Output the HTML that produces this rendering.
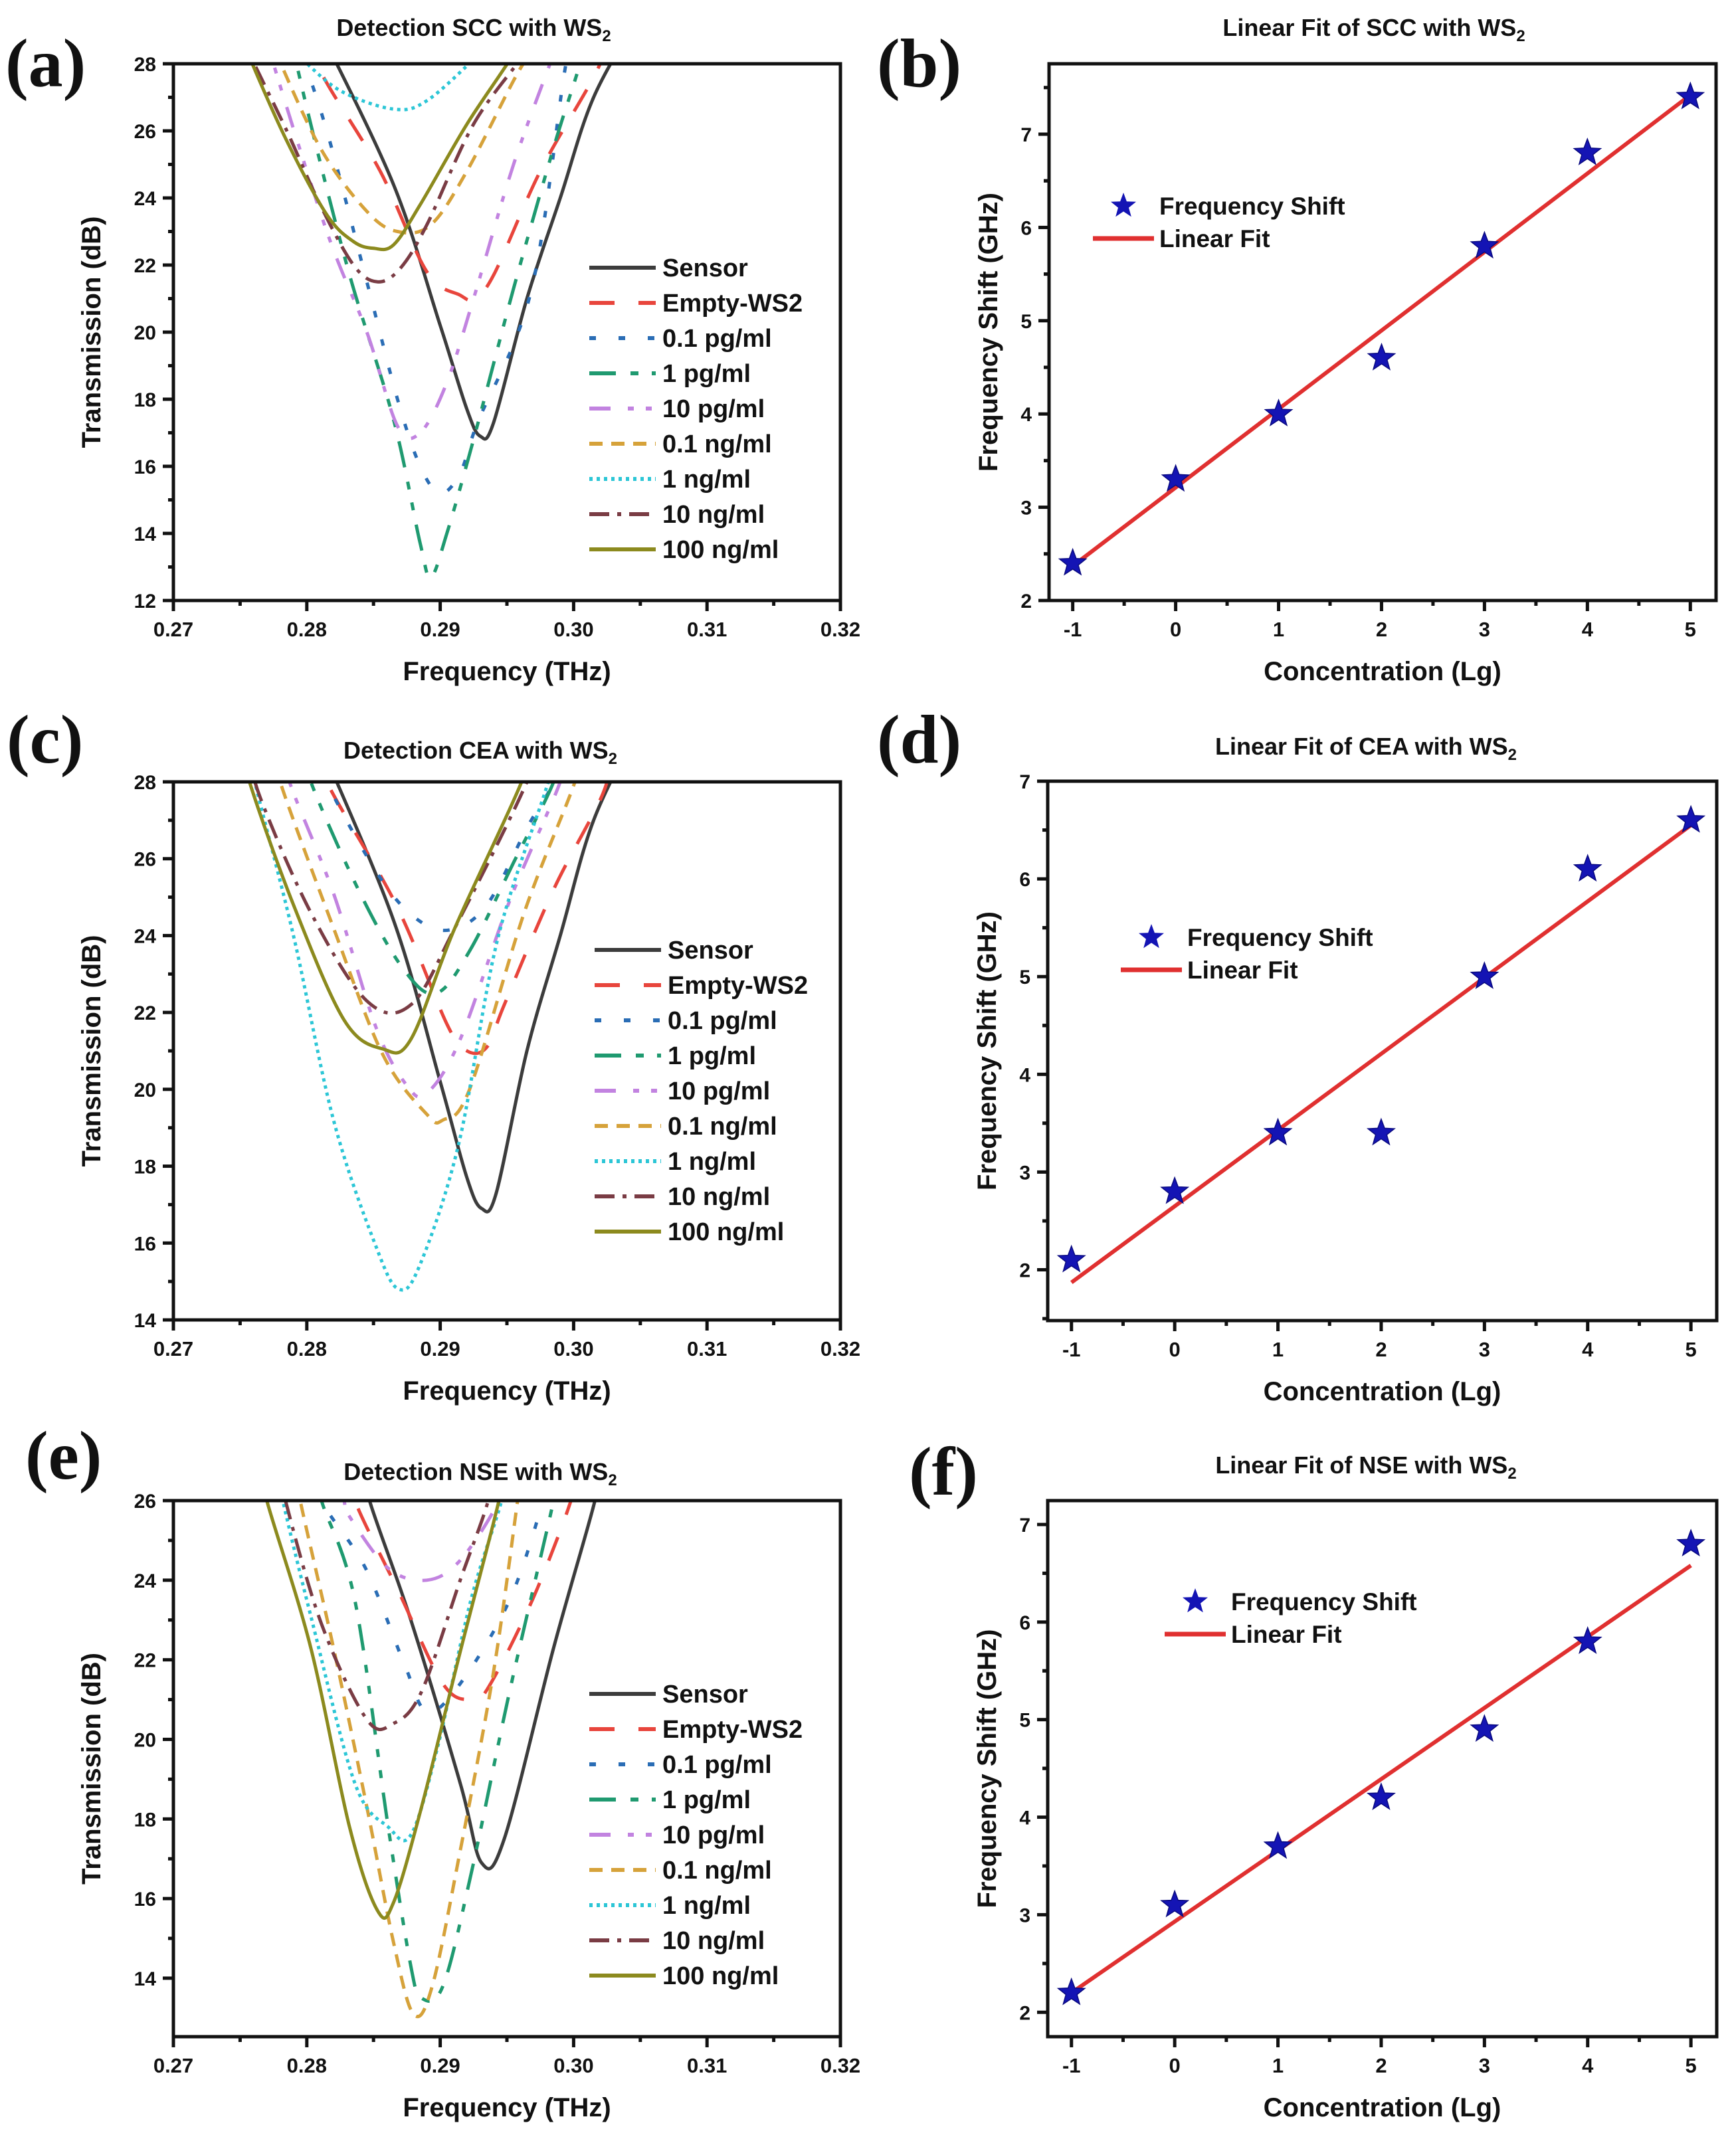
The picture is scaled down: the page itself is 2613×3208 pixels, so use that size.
<!DOCTYPE html>
<html><head><meta charset="utf-8"><style>
html,body{margin:0;padding:0;background:#fff;}
svg{display:block;}
text{font-family:"Liberation Sans",Arial,sans-serif;font-weight:bold;fill:#111;}
.pl{font-family:"Liberation Serif","Times New Roman",serif;font-weight:bold;}
</style></head><body>
<svg id="fig" xmlns="http://www.w3.org/2000/svg" width="2613" height="3208" viewBox="0 0 2613 3208"></svg>
<script>
// ---------- data ----------
const seriesNames = ["Sensor","Empty-WS2","0.1 pg/ml","1 pg/ml","10 pg/ml","0.1 ng/ml","1 ng/ml","10 ng/ml","100 ng/ml"];
const freqTicks = [0.27,0.28,0.29,0.30,0.31,0.32];
const freqTickLabels = ["0.27","0.28","0.29","0.30","0.31","0.32"];
const sccTicks = [12,14,16,18,20,22,24,26,28];
const ceaTicks = [14,16,18,20,22,24,26,28];
const nseTicks = [14,16,18,20,22,24,26];
// SCC curves: [freq THz, transmission dB]
const sccSensor = [[0.281,29],[0.2865,24.4],[0.290,20.2],[0.292,17.7],[0.293,16.9],[0.294,17.3],[0.2965,21],[0.299,24],[0.3015,27],[0.305,29.5]];
const sccEmpty = [[0.2805,29],[0.281,27.8],[0.2855,24.8],[0.289,21.8],[0.2915,21.1],[0.2925,21],[0.294,21.7],[0.2975,24.8],[0.3015,27.6],[0.303,29]];
const sccP01 = [[0.279,29],[0.2815,26],[0.2845,21.5],[0.2868,18],[0.2885,16],[0.290,15.2],[0.2915,15.8],[0.2928,17.3],[0.2968,21.2],[0.2993,27.7],[0.300,29]];
const sccP1 = [[0.279,29],[0.2794,27.7],[0.283,22],[0.2865,17.4],[0.2885,13.7],[0.2893,12.7],[0.2905,14],[0.2925,16.8],[0.2955,21.3],[0.2985,25.5],[0.3004,27.9],[0.301,29]];
const sccP10 = [[0.277,29],[0.2775,28],[0.2815,23],[0.2845,20],[0.2868,17.2],[0.2885,17],[0.2905,18.5],[0.2925,21],[0.2955,25],[0.2985,28.3],[0.299,29]];
const sccN01 = [[0.277,29],[0.2775,28.5],[0.281,25.5],[0.2845,23.6],[0.2868,23],[0.2893,23.2],[0.292,24.8],[0.2955,27.5],[0.297,28.5],[0.2975,29]];
const sccN1 = [[0.2785,28.6],[0.2795,28.2],[0.2825,27.2],[0.2865,26.65],[0.289,26.9],[0.2927,28.2],[0.294,28.7]];
const sccN10 = [[0.275,29],[0.2757,28.3],[0.2785,26],[0.281,23.8],[0.2835,22],[0.2853,21.5],[0.287,21.9],[0.289,23.2],[0.2925,26.2],[0.2963,28.3],[0.297,29]];
const sccN100 = [[0.275,29],[0.2757,28.2],[0.2785,25.7],[0.2815,23.5],[0.2835,22.7],[0.285,22.5],[0.2865,22.6],[0.2885,23.8],[0.292,26.2],[0.2955,28.3],[0.296,29]];
// CEA curves
const ceaSensor = [[0.281,29],[0.2865,24.4],[0.290,20.2],[0.292,17.7],[0.2931,16.9],[0.2942,17.3],[0.2965,21],[0.299,24],[0.3015,27],[0.305,29.5]];
const ceaEmpty = [[0.281,29],[0.2815,28],[0.2867,24.8],[0.2905,21.7],[0.292,21],[0.2935,21.1],[0.2948,22.2],[0.2985,25.2],[0.3022,27.7],[0.303,29]];
const ceaP01 = [[0.281,29],[0.2815,28],[0.2857,25.4],[0.2888,24.3],[0.2913,24.2],[0.2937,24.9],[0.2965,26.8],[0.2985,28],[0.299,29]];
const ceaP1 = [[0.2798,29],[0.2803,28],[0.284,25.1],[0.2873,23.1],[0.2897,22.5],[0.2922,23.6],[0.2955,25.9],[0.2985,28],[0.299,29]];
const ceaP10 = [[0.2782,29],[0.2787,28],[0.282,25.1],[0.2852,21.6],[0.2875,20.1],[0.289,19.9],[0.2915,21.3],[0.2952,24.9],[0.299,28],[0.2995,29]];
const ceaN01 = [[0.2775,29],[0.278,28],[0.282,24.2],[0.2857,20.9],[0.289,19.35],[0.2902,19.2],[0.2922,20],[0.2963,24.6],[0.3001,28],[0.3006,29]];
const ceaN1 = [[0.2756,29],[0.2761,28],[0.279,24],[0.282,19.2],[0.2852,15.9],[0.2869,14.8],[0.2885,15.45],[0.2914,18.6],[0.2943,23.9],[0.2981,28],[0.2986,29]];
const ceaN10 = [[0.2755,29],[0.2765,27.6],[0.2803,24.6],[0.2845,22.3],[0.2878,22.2],[0.2911,24.2],[0.2965,28],[0.297,29]];
const ceaN100 = [[0.2752,29],[0.2757,28],[0.279,24.8],[0.2828,21.8],[0.2857,21.05],[0.2878,21.3],[0.2911,24.2],[0.2961,28],[0.2966,29]];
// NSE curves
const nseSensor = [[0.2842,27],[0.2847,26],[0.2878,23],[0.2915,18.9],[0.2931,16.9],[0.2948,17.5],[0.2985,22.3],[0.3016,26],[0.302,27]];
const nseEmpty = [[0.2831,27],[0.2836,26],[0.2869,23.7],[0.2902,21.4],[0.2923,21],[0.2936,21.3],[0.2969,23.5],[0.2998,26],[0.3003,27]];
const nseP01 = [[0.2806,27],[0.2811,26],[0.2844,24.3],[0.2873,21.9],[0.289,20.7],[0.2915,21.4],[0.2952,23.5],[0.2977,26],[0.2982,27]];
const nseP1 = [[0.2806,27],[0.2811,26],[0.2836,23.5],[0.2861,17.8],[0.2878,14.3],[0.2886,13.5],[0.2902,13.8],[0.2923,16.6],[0.2952,21.2],[0.2985,26],[0.299,27]];
const nseP10 = [[0.2823,27],[0.2828,26],[0.2832,25.6],[0.2861,24.3],[0.289,24],[0.2915,24.5],[0.2944,26],[0.295,27]];
const nseN01 = [[0.279,27],[0.2795,26],[0.282,22.3],[0.2845,18.3],[0.2865,14.9],[0.288,13.1],[0.2894,13.8],[0.2915,17.2],[0.294,21.7],[0.2958,26],[0.2962,27]];
const nseN1 = [[0.2777,27],[0.2782,26],[0.2803,23.1],[0.2836,18.9],[0.2861,17.8],[0.2878,17.6],[0.2898,19.8],[0.2923,23.5],[0.2946,26],[0.295,27]];
const nseN10 = [[0.2779,27],[0.2784,26],[0.2811,22.9],[0.2845,20.5],[0.2865,20.4],[0.2886,21.2],[0.2915,24],[0.2936,26],[0.294,27]];
const nseN100 = [[0.2765,27],[0.277,26],[0.2803,22.3],[0.2832,17.8],[0.2853,15.7],[0.2865,15.9],[0.2886,18.3],[0.2915,22.2],[0.2944,26],[0.2948,27]];
// Linear fit panels
const concentrations = [-1,0,1,2,3,4,5];
const concTickLabels = ["-1","0","1","2","3","4","5"];
const sccShift = [2.4,3.3,4.0,4.6,5.8,6.8,7.4];
const sccFit = [2.37,7.42];
const ceaShift = [2.1,2.8,3.4,3.4,5.0,6.1,6.6];
const ceaFit = [1.87,6.55];
const nseShift = [2.2,3.1,3.7,4.2,4.9,5.8,6.8];
const nseFit = [2.2,6.58];
const shiftTicksB = [2,3,4,5,6,7];
const shiftTicksF = [2,3,4,5,6,7];

// ---------- drawing ----------
const NS="http://www.w3.org/2000/svg";
const svg=document.getElementById('fig');
function mk(tag,attrs,parent){const e=document.createElementNS(NS,tag);for(const k in attrs)e.setAttribute(k,attrs[k]);(parent||svg).appendChild(e);return e;}
const styles=[
 {c:"#3c3c3c",d:""},{c:"#e8453c",d:"38,36"},{c:"#2a6db5",d:"10,34"},{c:"#1f9a70",d:"40,22,12,20,12,22"},
 {c:"#c283e0",d:"32,26,9,18,9,26"},{c:"#d6a23a",d:"20,13"},{c:"#2cc6d6",d:"5,6"},{c:"#7a3c44",d:"30,12,6,12"},{c:"#8c8a1e",d:""}];

function smoothPath(pts){
  let d="M"+pts[0][0].toFixed(1)+","+pts[0][1].toFixed(1);
  for(let i=0;i<pts.length-1;i++){
    const p0=pts[Math.max(0,i-1)],p1=pts[i],p2=pts[i+1],p3=pts[Math.min(pts.length-1,i+2)];
    const c1=[p1[0]+(p2[0]-p0[0])/6,p1[1]+(p2[1]-p0[1])/6];
    const c2=[p2[0]-(p3[0]-p1[0])/6,p2[1]-(p3[1]-p1[1])/6];
    d+=" C"+c1[0].toFixed(1)+","+c1[1].toFixed(1)+" "+c2[0].toFixed(1)+","+c2[1].toFixed(1)+" "+p2[0].toFixed(1)+","+p2[1].toFixed(1);
  }
  return d;
}
function axesBox(g,L,R,T,B){
  const a=mk('rect',{x:L,y:T,width:R-L,height:B-T,fill:'none',stroke:'#111','stroke-width':5},g);
  
  
}
function title(g,cx,y,main,name){
  const t=mk('text',{x:cx,y:y,'text-anchor':'middle','font-size':36},g);
  
  
  t.textContent=main;
  const s=mk('tspan',{'font-size':24,dy:8},t);s.textContent="2";
}
function panelLetter(x,y,txt,name){
  const t=mk('text',{x:x,y:y,'font-size':104,'class':'pl'});
  
  
  t.textContent=txt;
}
let clipId=0;
function spectrumPanel(o){
  const g=mk('g',{});
  
  
  const {L,R,T,B,ymin,ymax}=o;
  const X=v=>L+(v-0.27)/0.05*(R-L);
  const Y=v=>B-(v-ymin)/(ymax-ymin)*(B-T);
  clipId++;
  const cp=mk('clipPath',{id:'c'+clipId},g);mk('rect',{x:L,y:T,width:R-L,height:B-T},cp);
  const cg=mk('g',{'clip-path':'url(#c'+clipId+')'},g);
  o.series.forEach((s,i)=>{
    const p=mk('path',{d:smoothPath(s.map(q=>[X(q[0]),Y(q[1])])),fill:'none',stroke:styles[i].c,'stroke-width':5,'stroke-dasharray':styles[i].d,'stroke-linejoin':'round'},cg);
    
    
  });
  axesBox(g,L,R,T,B);
  // x ticks
  freqTicks.forEach((v,i)=>{
    mk('line',{x1:X(v),x2:X(v),y1:B,y2:B+16,stroke:'#111','stroke-width':5},g);
    if(i<freqTicks.length-1){const m=X(v+0.005);mk('line',{x1:m,x2:m,y1:B,y2:B+8,stroke:'#111','stroke-width':5},g);}
    const t=mk('text',{x:X(v),y:B+54,'text-anchor':'middle','font-size':31},g);
    
    
    t.textContent=freqTickLabels[i];
  });
  o.yticks.forEach((v,i)=>{
    mk('line',{x1:L-16,x2:L,y1:Y(v),y2:Y(v),stroke:'#111','stroke-width':5},g);
    if(v+1<=ymax){mk('line',{x1:L-8,x2:L,y1:Y(v+1),y2:Y(v+1),stroke:'#111','stroke-width':5},g);}
    const t=mk('text',{x:L-26,y:Y(v)+11,'text-anchor':'end','font-size':30},g);
    
    
    t.textContent=v;
  });
  const xt=mk('text',{x:(L+R)/2,y:B+120,'text-anchor':'middle','font-size':40},g);
  
  
  xt.textContent="Frequency (THz)";
  const yt=mk('text',{x:0,y:0,'text-anchor':'middle','font-size':40,transform:'translate('+(L-110)+','+((T+B)/2)+') rotate(-90)'},g);
  
  
  yt.textContent="Transmission (dB)";
  // legend
  const lg=mk('g',{},g);
  
  
  seriesNames.forEach((n,i)=>{
    const y=o.legY+i*o.legDy;
    mk('line',{x1:o.legX,x2:o.legX+100,y1:y,y2:y,stroke:styles[i].c,'stroke-width':6,'stroke-dasharray':styles[i].d},lg);
    const t=mk('text',{x:o.legX+110,y:y+13,'font-size':38},lg);
    
    
    t.textContent=n;
  });
}
function starPath(cx,cy,r){
  let d="";for(let i=0;i<10;i++){const a=-Math.PI/2+i*Math.PI/5;const rr=i%2?r*0.42:r;d+=(i?"L":"M")+(cx+rr*Math.cos(a)).toFixed(1)+","+(cy+rr*Math.sin(a)).toFixed(1);}return d+"Z";
}
function fitPanel(o){
  const g=mk('g',{});
  
  
  const {L,R,T,B,ymin,ymax}=o;
  const xmin=-1.23,xmax=5.25;
  const X=v=>L+(v-xmin)/(xmax-xmin)*(R-L);
  const Y=v=>B-(v-ymin)/(ymax-ymin)*(B-T);
  const fl=mk('line',{x1:X(concentrations[0]),y1:Y(o.fit[0]),x2:X(concentrations[concentrations.length-1]),y2:Y(o.fit[1]),stroke:'#e03030','stroke-width':6},g);
  
  
  concentrations.forEach((c,i)=>{
    const s=mk('path',{d:starPath(X(c),Y(o.vals[i]),21),fill:'#1414b4',stroke:'#0a0a80','stroke-width':1.5},g);
    
    
  });
  axesBox(g,L,R,T,B);
  concentrations.forEach((c,i)=>{
    mk('line',{x1:X(c),x2:X(c),y1:B,y2:B+16,stroke:'#111','stroke-width':5},g);
    if(i<concentrations.length-1){mk('line',{x1:X(c+0.5),x2:X(c+0.5),y1:B,y2:B+8,stroke:'#111','stroke-width':5},g);}
    const t=mk('text',{x:X(c),y:B+54,'text-anchor':'middle','font-size':31},g);
    
    
    t.textContent=concTickLabels[i];
  });
  o.yticks.forEach(v=>{
    mk('line',{x1:L-16,x2:L,y1:Y(v),y2:Y(v),stroke:'#111','stroke-width':5},g);
    [v-0.5,v+0.5].forEach(m=>{if(m>ymin&&m<ymax)mk('line',{x1:L-8,x2:L,y1:Y(m),y2:Y(m),stroke:'#111','stroke-width':5},g);});
    const t=mk('text',{x:L-26,y:Y(v)+11,'text-anchor':'end','font-size':30},g);
    
    
    t.textContent=v;
  });
  const xt=mk('text',{x:(L+R)/2,y:B+120,'text-anchor':'middle','font-size':40},g);
  
  
  xt.textContent="Concentration (Lg)";
  const yt=mk('text',{x:0,y:0,'text-anchor':'middle','font-size':40,transform:'translate('+(L-78)+','+((T+B)/2)+') rotate(-90)'},g);
  
  
  yt.textContent="Frequency Shift (GHz)";
  const lg=mk('g',{},g);
  
  
  mk('path',{d:starPath(o.legX+46,o.legY,20),fill:'#1414b4'},lg);
  const t1=mk('text',{x:o.legX+100,y:o.legY+13,'font-size':37},lg);
  
  
  t1.textContent="Frequency Shift";
  mk('line',{x1:o.legX,x2:o.legX+92,y1:o.legY+49,y2:o.legY+49,stroke:'#e03030','stroke-width':7},lg);
  const t2=mk('text',{x:o.legX+100,y:o.legY+62,'font-size':37},lg);
  
  
  t2.textContent="Linear Fit";
}

panelLetter(8,130,"(a)","panel-label-a");
panelLetter(1320,130,"(b)","panel-label-b");
panelLetter(10,1148,"(c)","panel-label-c");
panelLetter(1320,1148,"(d)","panel-label-d");
panelLetter(38,2226,"(e)","panel-label-e");
panelLetter(1368,2250,"(f)","panel-label-f");

title(svg,713,54,"Detection SCC with WS","title-a");
title(svg,2068,54,"Linear Fit of SCC with WS","title-b");
title(svg,723,1142,"Detection CEA with WS","title-c");
title(svg,2056,1136,"Linear Fit of CEA with WS","title-d");
title(svg,723,2228,"Detection NSE with WS","title-e");
title(svg,2056,2218,"Linear Fit of NSE with WS","title-f");

spectrumPanel({name:'chart-scc-detection',L:261,R:1265,T:96,B:904,ymin:12,ymax:28,yticks:sccTicks,
  series:[sccSensor,sccEmpty,sccP01,sccP1,sccP10,sccN01,sccN1,sccN10,sccN100],legX:887,legY:403,legDy:53});
spectrumPanel({name:'chart-cea-detection',L:261,R:1265,T:1177,B:1987,ymin:14,ymax:28,yticks:ceaTicks,
  series:[ceaSensor,ceaEmpty,ceaP01,ceaP1,ceaP10,ceaN01,ceaN1,ceaN10,ceaN100],legX:895,legY:1430,legDy:53});
spectrumPanel({name:'chart-nse-detection',L:261,R:1265,T:2259,B:3066,ymin:12.53,ymax:26,yticks:nseTicks,
  series:[nseSensor,nseEmpty,nseP01,nseP1,nseP10,nseN01,nseN1,nseN10,nseN100],legX:887,legY:2550,legDy:53});

fitPanel({name:'chart-scc-linear-fit',L:1579,R:2583,T:96,B:904,ymin:2,ymax:7.755,yticks:shiftTicksB,vals:sccShift,fit:sccFit,legX:1645,legY:310});
fitPanel({name:'chart-cea-linear-fit',L:1577,R:2584,T:1176,B:1988,ymin:1.48,ymax:7,yticks:[2,3,4,5,6,7],vals:ceaShift,fit:ceaFit,legX:1687,legY:1411});
fitPanel({name:'chart-nse-linear-fit',L:1577,R:2584,T:2259,B:3066,ymin:1.75,ymax:7.245,yticks:shiftTicksF,vals:nseShift,fit:nseFit,legX:1753,legY:2411});
</script>
</body></html>
